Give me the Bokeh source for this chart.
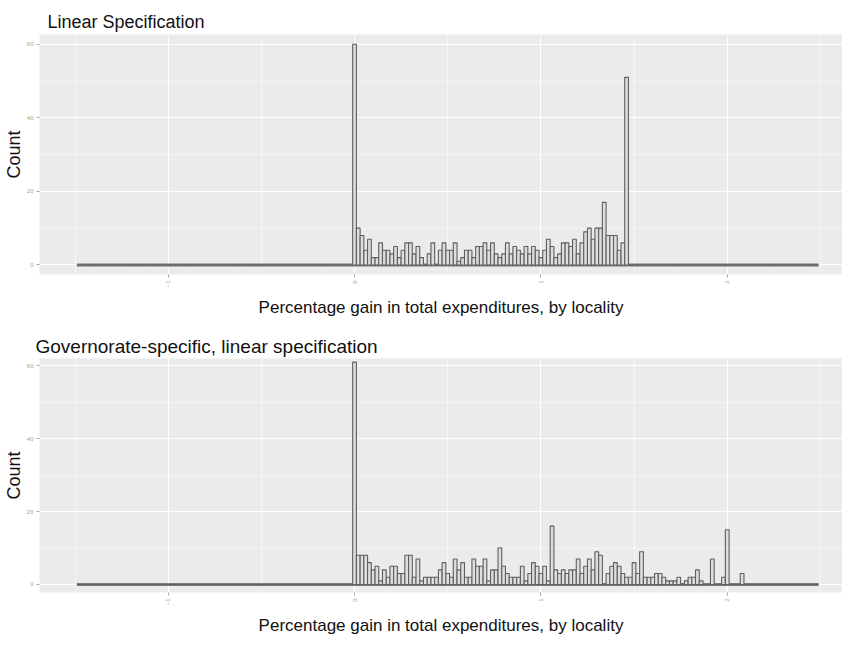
import numpy as np
from bokeh.plotting import figure
from bokeh.layouts import column
from bokeh.models import Range1d, FixedTicker, ColumnDataSource
from bokeh.embed import file_html
from bokeh.resources import INLINE

# ---- data -------------------------------------------------------------
bin_width = 0.02
x_limits = (-1.49, 2.49)          # histogram range (empty bins drawn at zero)
x_ticks = [-1, 0, 1, 2]
x_minor = [-1.5, -0.5, 0.5, 1.5, 2.5]
y_ticks = [0, 20, 40, 60]
y_minor = [10, 30, 50]

titles = ["Linear Specification", "Governorate-specific, linear specification"]
x_label = "Percentage gain in total expenditures, by locality"
y_label = "Count"

# counts for bins centred at 0.00, 0.02, 0.04, ...
counts_linear = [60, 10, 8, 4, 7, 2, 2, 6, 4, 4,
                 3, 5, 2, 4, 6, 6, 3, 5, 2, 0,
                 3, 6, 0, 4, 6, 4, 4, 6, 1, 2,
                 4, 4, 2, 5, 5, 6, 4, 6, 3, 2,
                 3, 6, 3, 5, 4, 3, 5, 3, 5, 4,
                 2, 4, 7, 5, 2, 3, 6, 6, 5, 7,
                 3, 6, 9, 10, 7, 10, 10, 17, 8, 8,
                 8, 4, 6, 51]

counts_governorate = [61, 8, 8, 8, 6, 4, 5, 1, 4, 2,
                      5, 5, 3, 3, 8, 8, 2, 7, 1, 2,
                      2, 2, 2, 4, 6, 3, 2, 7, 4, 6,
                      2, 2, 7, 5, 5, 7, 1, 4, 4, 10,
                      5, 3, 2, 2, 2, 5, 1, 3, 6, 5,
                      3, 5, 1, 16, 4, 3, 4, 3, 4, 4,
                      7, 3, 5, 7, 4, 9, 8, 0, 3, 5,
                      6, 5, 3, 2, 2, 6, 3, 9, 2, 2,
                      2, 3, 3, 2, 1, 1, 1, 2, 0, 1,
                      2, 2, 4, 1, 0, 0, 7, 0, 0, 2,
                      15, 0, 0, 0, 3]

# ---- build full bin tables --------------------------------------------
n_left = int(round((0 - x_limits[0]) / bin_width - 0.5))
n_total = int(round((x_limits[1] - x_limits[0]) / bin_width))
centers = np.round((np.arange(n_total) - n_left) * bin_width, 4)


def full_counts(counts):
    arr = np.zeros(n_total)
    arr[n_left:n_left + len(counts)] = counts
    return arr


BG = "#EBEBEB"
FIG_W = 842
BORDER_L = 34
FRAME_W = FIG_W - BORDER_L
PX_PER_UNIT = 187.5
X0 = -(359 - 42) / PX_PER_UNIT


def make_panel(title, counts, height, border_top, border_bottom, frame_y, title_offset,
               title_size, title_standoff):
    p = figure(width=FIG_W, height=height, output_backend="svg", toolbar_location=None,
               x_range=Range1d(X0, X0 + FRAME_W / PX_PER_UNIT), y_range=Range1d(*frame_y),
               min_border_left=BORDER_L, min_border_right=0,
               min_border_top=border_top, min_border_bottom=border_bottom)
    p.title.text = title
    p.title.align = "left"
    p.title.offset = title_offset
    p.title.standoff = title_standoff
    p.title.text_font = "Liberation Sans"
    p.title.text_font_style = "normal"
    p.title.text_font_size = title_size
    p.title.text_color = "#111111"

    p.background_fill_color = BG
    p.border_fill_color = "white"
    p.outline_line_color = None

    c = full_counts(counts)
    left = centers - bin_width / 2
    right = centers + bin_width / 2
    src = ColumnDataSource(dict(left=left, right=right, top=c, bottom=np.zeros(n_total)))
    # zero-count bins collapse onto the baseline, which ggplot shows as a thick grey line
    p.segment(x0=left[0], y0=0, x1=right[-1], y1=0, line_color="#7A7A7A", line_width=3)
    p.quad(left="left", right="right", top="top", bottom="bottom", source=src,
           fill_color="#DEDEDE", line_color="#5E5E5E", line_width=1.1)

    p.xaxis.ticker = FixedTicker(ticks=x_ticks, minor_ticks=x_minor)
    p.yaxis.ticker = FixedTicker(ticks=y_ticks, minor_ticks=y_minor)
    for ax in (p.xaxis, p.yaxis):
        ax.axis_line_color = None
        ax.minor_tick_line_color = None
        ax.major_tick_line_color = "#A8A8A8"
        ax.major_tick_out = 3
        ax.major_tick_in = 0
        ax.major_label_text_font_size = "6px"
        ax.major_label_text_color = "#A0A0A0"
        ax.major_label_standoff = 2
        ax.axis_label_text_font = "Liberation Sans"
        ax.axis_label_text_font_style = "normal"
        ax.axis_label_text_color = "#111111"
    p.xaxis.major_label_orientation = np.pi / 2
    p.xaxis.axis_label = x_label
    p.xaxis.axis_label_text_font_size = "17px"
    p.xaxis.axis_label_standoff = 8
    p.yaxis.axis_label = y_label
    p.yaxis.axis_label_text_font_size = "18px"
    p.yaxis.axis_label_standoff = 0

    p.xgrid.grid_line_color = "white"
    p.ygrid.grid_line_color = "white"
    p.xgrid.grid_line_width = 1.1
    p.ygrid.grid_line_width = 1.1
    p.xgrid.minor_grid_line_color = "white"
    p.ygrid.minor_grid_line_color = "white"
    p.xgrid.minor_grid_line_width = 0.5
    p.ygrid.minor_grid_line_width = 0.5
    return p


# top: frame 245 px tall; bottom: frame 240 px tall (the page must stay inside 654 px)
p1 = make_panel(titles[0], counts_linear, 320, 34, 41, (-2.6, 62.65), 8, "18px", 6)
p2 = make_panel(titles[1], counts_governorate, 318, 38, 40, (-2.2, 62.0), -4, "19px", 3)

layout = column(p1, p2, spacing=0)
open("out.html", "w").write(file_html(layout, INLINE))
